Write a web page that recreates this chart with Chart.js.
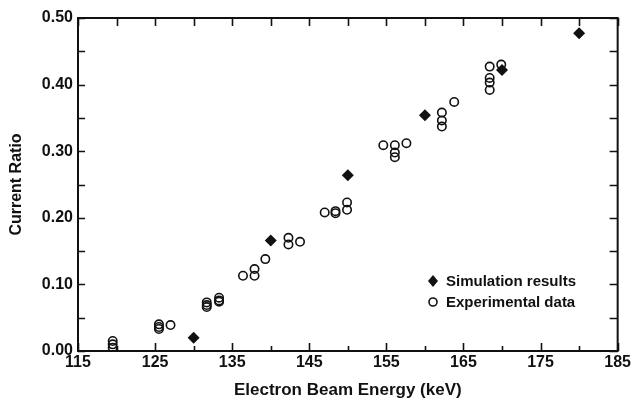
<!DOCTYPE html>
<html>
<head>
<meta charset="utf-8">
<script src="https://cdn.jsdelivr.net/npm/chart.js@4.4.1/dist/chart.umd.min.js"></script>
<style>
    html, body { margin: 0; padding: 0; background: #fff; }
    #wrap { width: 633px; height: 401px; }
</style>
</head>
<body>
<div id="wrap"><canvas id="myChart"></canvas></div>
<script>
// simulation results (diamonds)
const simEnergy = [130, 140, 150, 160, 170, 180];
const simRatio = [0.020, 0.166, 0.264, 0.354, 0.422, 0.477];

// experimental data (open circles)
const expEnergy = [
    119.5, 119.5, 119.5,
    125.5, 125.5, 125.5, 127,
    131.7, 131.7, 131.7, 133.3, 133.3, 133.3,
    136.4, 137.9, 137.9, 139.3,
    142.3, 142.3, 143.8,
    147, 148.4, 148.4, 149.9, 149.9,
    154.6, 156.1, 156.1, 156.1, 157.6,
    162.2, 162.2, 162.2, 163.8,
    168.4, 168.4, 168.4, 168.4, 169.9
];
const expRatio = [
    0.015, 0.010, 0.005,
    0.040, 0.036, 0.033, 0.039,
    0.073, 0.069, 0.066, 0.080, 0.076, 0.074,
    0.113, 0.123, 0.113, 0.138,
    0.170, 0.160, 0.164,
    0.208, 0.207, 0.210, 0.223, 0.212,
    0.309, 0.309, 0.298, 0.291, 0.312,
    0.358, 0.346, 0.337, 0.374,
    0.427, 0.410, 0.403, 0.392, 0.430
];

const xTicks = [115, 125, 135, 145, 155, 165, 175, 185];
const yTicks = [0.00, 0.10, 0.20, 0.30, 0.40, 0.50];

const FONT = "'Liberation Sans', Arial, sans-serif";

function pairs(xs, ys) {
    return xs.map((x, i) => ({ x: x, y: ys[i] }));
}

// inward ticks on all four sides + frame, and the legend inside the plot
const frame = {
    id: 'frame',
    afterDraw(chart) {
        const c = chart.ctx;
        const a = chart.chartArea;
        const xs = chart.scales.x;
        const ys = chart.scales.y;
        c.save();
        c.strokeStyle = '#111';
        c.lineWidth = 2;
        c.strokeRect(a.left, a.top, a.right - a.left, a.bottom - a.top);
        c.lineWidth = 1.6;
        c.beginPath();
        for (let v = 115; v <= 185; v += 5) {
            const px = Math.round(xs.getPixelForValue(v)) + 0.5;
            const major = (v - 115) % 10 === 0;
            c.moveTo(px, a.bottom);
            c.lineTo(px, a.bottom - (major ? 8 : 5));
            c.moveTo(px, a.top);
            c.lineTo(px, a.top + 8);
        }
        for (let v = 0; v <= 0.5001; v += 0.05) {
            const py = Math.round(ys.getPixelForValue(v)) + 0.5;
            c.moveTo(a.left, py);
            c.lineTo(a.left + 7, py);
            c.moveTo(a.right, py);
            c.lineTo(a.right - 8, py);
        }
        c.stroke();

        // legend
        const items = chart.data.datasets;
        c.font = 'bold 15px ' + FONT;
        c.textBaseline = 'middle';
        c.fillStyle = '#111';
        items.forEach((ds, i) => {
            const cx = 433, cy = 281 + i * 21;
            c.beginPath();
            if (ds.pointStyle === 'rectRot') {
                c.moveTo(cx, cy - 6);
                c.lineTo(cx + 5, cy);
                c.lineTo(cx, cy + 6);
                c.lineTo(cx - 5, cy);
                c.closePath();
                c.fill();
            } else {
                c.lineWidth = 1.6;
                c.arc(cx, cy, 4, 0, Math.PI * 2);
                c.stroke();
            }
            c.fillText(ds.label, 446, cy + 1);
        });
        c.restore();
    }
};

const ctx = document.getElementById('myChart');
new Chart(ctx, {
    type: 'scatter',
    data: {
        datasets: [
            {
                label: 'Simulation results',
                data: pairs(simEnergy, simRatio),
                pointStyle: 'rectRot',
                pointRadius: 6,
                backgroundColor: '#111',
                borderColor: '#111',
                borderWidth: 0
            },
            {
                label: 'Experimental data',
                data: pairs(expEnergy, expRatio),
                pointStyle: 'circle',
                pointRadius: 4.2,
                backgroundColor: 'rgba(255,255,255,0)',
                borderColor: '#111',
                borderWidth: 1.6
            }
        ]
    },
    plugins: [frame],
    options: {
        responsive: true,
        maintainAspectRatio: false,
        animation: false,
        layout: {
            padding: { top: 18, right: 12, left: 0, bottom: 0 }
        },
        plugins: {
            legend: { display: false },
            tooltip: { enabled: false }
        },
        scales: {
            x: {
                type: 'linear',
                min: 115,
                max: 185,
                afterBuildTicks: s => { s.ticks = xTicks.map(v => ({ value: v })); },
                afterFit: s => { s.height = 50; },
                grid: { display: false, drawTicks: false },
                border: { display: false },
                ticks: {
                    padding: 2,
                    color: '#111',
                    font: { family: FONT, size: 16, weight: 'bold' }
                },
                title: {
                    display: true,
                    text: 'Electron Beam Energy (keV)',
                    color: '#111',
                    padding: 0,
                    font: { family: FONT, size: 17, weight: 'bold' }
                }
            },
            y: {
                type: 'linear',
                min: 0,
                max: 0.5,
                afterBuildTicks: s => { s.ticks = yTicks.map(v => ({ value: v })); },
                afterFit: s => { s.width = 78; },
                grid: { display: false, drawTicks: false },
                border: { display: false },
                ticks: {
                    padding: 5,
                    color: '#111',
                    font: { family: FONT, size: 16, weight: 'bold' },
                    callback: v => v.toFixed(2)
                },
                title: {
                    display: true,
                    text: 'Current Ratio',
                    color: '#111',
                    padding: { top: 7, bottom: 0 },
                    font: { family: FONT, size: 16, weight: 'bold' }
                }
            }
        }
    }
});
</script>
</body>
</html>
